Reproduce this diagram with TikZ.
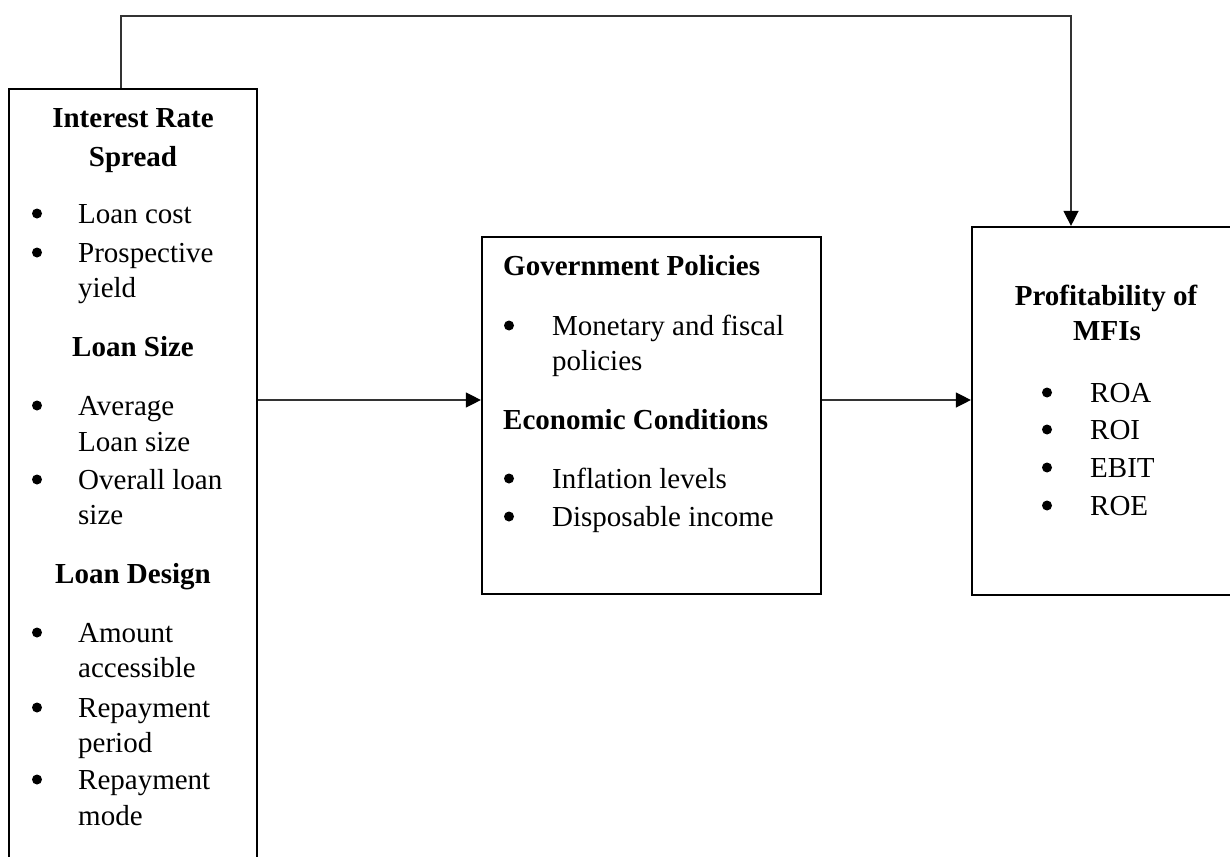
\documentclass[tikz,border=0pt]{standalone}
\usepackage{fontspec}
\setmainfont{Liberation Serif}
\usetikzlibrary{arrows.meta}
\begin{document}
\begin{tikzpicture}[x=1pt,y=-1pt,
 box/.style={draw=black,line width=2.2pt,inner sep=0pt},
 conn/.style={draw=black!80,line width=1.3pt},
 arr/.style={conn,-{Triangle[length=15pt,width=15pt,color=black]}},
 txt/.style={inner sep=0pt,font=\fontsize{29}{35}\selectfont},
 head/.style={inner sep=0pt,font=\fontsize{29}{35}\selectfont\bfseries,anchor=base},
 headw/.style={head,anchor=base west},
 itm/.style={txt,anchor=base west},
 bul/.style={circle,fill=black,inner sep=0pt,minimum size=10pt,yshift=9.5pt},
]
\useasboundingbox (0,0) rectangle (1230,856);
% boxes
\node[box, minimum width=248pt, minimum height=800pt] (L) at (133,489) {};
\node[box, minimum width=339pt, minimum height=357pt] (M) at (651.5,415.5) {};
\node[box, minimum width=280pt, minimum height=368pt] (R) at (1112,411) {};
% left box text
\node[head] (l1) at (133,128) {Interest Rate};
\node[head] (l2) at (133,166) {Spread};
\node[bul] (lb1) at (37,223) {};
\node[itm] (lt1) at (78,223) {Loan cost};
\node[bul] (lb2) at (37,262) {};
\node[itm] (lt2) at (78,262) {Prospective};
\node[itm] (lt3) at (78,297) {yield};
\node[head] (l3) at (133,356) {Loan Size};
\node[bul] (lb3) at (37,415) {};
\node[itm] (lt4) at (78,415) {Average};
\node[itm] (lt5) at (78,451) {Loan size};
\node[bul] (lb4) at (37,489) {};
\node[itm] (lt6) at (78,489) {Overall loan};
\node[itm] (lt7) at (78,524) {size};
\node[head] (l4) at (133,583) {Loan Design};
\node[bul] (lb5) at (37,642) {};
\node[itm] (lt8) at (78,642) {Amount};
\node[itm] (lt9) at (78,677) {accessible};
\node[bul] (lb6) at (37,717) {};
\node[itm] (lt10) at (78,717) {Repayment};
\node[itm] (lt11) at (78,752) {period};
\node[bul] (lb7) at (37,789) {};
\node[itm] (lt12) at (78,789) {Repayment};
\node[itm] (lt13) at (78,825) {mode};
% middle box text
\node[headw] (m1) at (503,275) {Government Policies};
\node[bul] (mb1) at (509,335) {};
\node[itm] (mt1) at (552,335) {Monetary and fiscal};
\node[itm] (mt2) at (552,370) {policies};
\node[headw] (m2) at (503,429) {Economic Conditions};
\node[bul] (mb2) at (509,488) {};
\node[itm] (mt3) at (552,488) {Inflation levels};
\node[bul] (mb3) at (509,526) {};
\node[itm] (mt4) at (552,526) {Disposable income};
% right box text
\node[head] (r1) at (1106,305) {Profitability of};
\node[head] (r2) at (1107,340) {MFIs};
\node[bul] (rb1) at (1047,402) {};
\node[itm] (rt1) at (1090,402) {ROA};
\node[bul] (rb2) at (1047,439) {};
\node[itm] (rt2) at (1090,439) {ROI};
\node[bul] (rb3) at (1047,477) {};
\node[itm] (rt3) at (1090,477) {EBIT};
\node[bul] (rb4) at (1047,515) {};
\node[itm] (rt4) at (1090,515) {ROE};
% connectors
\coordinate (ay) at (0,400);
\coordinate (tl) at (121,16);
\coordinate (tr) at (1071,16);
\draw[arr] (L.east |- ay) -- (M.west |- ay);
\draw[arr] (M.east |- ay) -- (R.west |- ay);
\draw[arr] (L.north -| tl) -- (tl) -- (tr) -- (R.north -| tr);
\end{tikzpicture}
\end{document}
